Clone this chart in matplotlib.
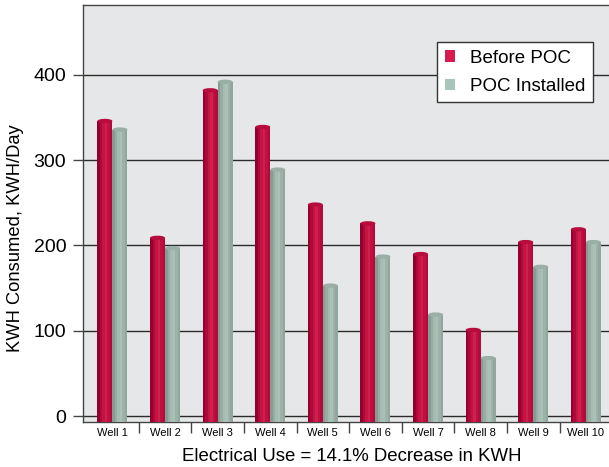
import numpy as np
import matplotlib
matplotlib.use('Agg')
import matplotlib.pyplot as plt
from matplotlib.patches import Ellipse, Patch

plt.rcParams['font.family'] = ['Liberation Sans', 'DejaVu Sans']

wells = ['Well 1', 'Well 2', 'Well 3', 'Well 4', 'Well 5',
         'Well 6', 'Well 7', 'Well 8', 'Well 9', 'Well 10']
before_poc = [346, 209, 382, 339, 248, 226, 190, 101, 204, 219]
poc_installed = [336, 197, 392, 289, 153, 187, 119, 68, 175, 204]

# horizontal shading profile to fake a cylinder (left -> right)
red_profile = ['#93002e', '#b0083a', '#c51443', '#cc2050', '#c10f40', '#b20b3b']
gray_profile = ['#869c92', '#97ada3', '#a6bbb1', '#abc0b6', '#9db3a9', '#91a79d']

fig = plt.figure(figsize=(6.09, 4.67), dpi=100)
ax = fig.add_axes([83/609, 1 - 422/467, 1 - 83/609, (422 - 5)/467])
ax.set_facecolor('#e6e7e8')

bw = 0.285
x = np.arange(len(wells))


def cylinder(xc, h, profile, cap):
    n = len(profile)
    sw = bw / n
    for i, c in enumerate(profile):
        ax.bar(xc - bw/2 + sw*(i + 0.5), h + 7, width=sw*1.02, bottom=-7,
               color=c, linewidth=0, zorder=3)
    ax.add_patch(Ellipse((xc, h), bw, 5, facecolor=cap, edgecolor='none', zorder=4))


for i in range(len(wells)):
    cylinder(x[i] - 0.143, before_poc[i], red_profile, '#b80c3e')
    cylinder(x[i] + 0.143, poc_installed[i], gray_profile, '#9aafa5')

ax.set_ylim(-7, 482)
ax.set_xlim(-0.56, 9.44)
ax.set_yticks([0, 100, 200, 300, 400])
ax.yaxis.grid(True, color='#2b2b2b', linewidth=1)
ax.set_axisbelow(True)
ax.tick_params(axis='y', direction='out', length=7, width=1, color='#444444',
               labelsize=14, pad=5)

ax.set_xticks(x)
ax.set_xticklabels(wells, fontsize=8)
ax.set_xticks(x[:-1] + 0.5, minor=True)
ax.tick_params(axis='x', which='major', length=0, pad=4)
ax.tick_params(axis='x', which='minor', direction='out', length=8, width=1, color='#444444')

for s in ['left', 'bottom', 'top']:
    ax.spines[s].set_color('#444444')
    ax.spines[s].set_linewidth(1)
ax.spines['right'].set_visible(False)

ax.set_ylabel('KWH Consumed, KWH/Day', fontsize=13.2)
ax.yaxis.set_label_coords(-0.112, 0.441)
ax.set_xlabel('Electrical Use = 14.1% Decrease in KWH', fontsize=13.4, labelpad=7)
ax.xaxis.label.set_x(0.5105)

handles = [Patch(facecolor='#d81b4f', edgecolor='none'),
           Patch(facecolor='#a9c4b8', edgecolor='none')]
leg = ax.legend(handles, ['Before POC', 'POC Installed'], loc='upper right',
                bbox_to_anchor=(0.9696, 0.911), fontsize=13.5, frameon=True,
                fancybox=False, edgecolor='#333333', framealpha=1,
                handlelength=0.55, handleheight=0.55, handletextpad=0.8,
                borderpad=0.4, labelspacing=0.6, borderaxespad=0)
leg.get_frame().set_linewidth(1)

fig.savefig('out.png', dpi=100)
